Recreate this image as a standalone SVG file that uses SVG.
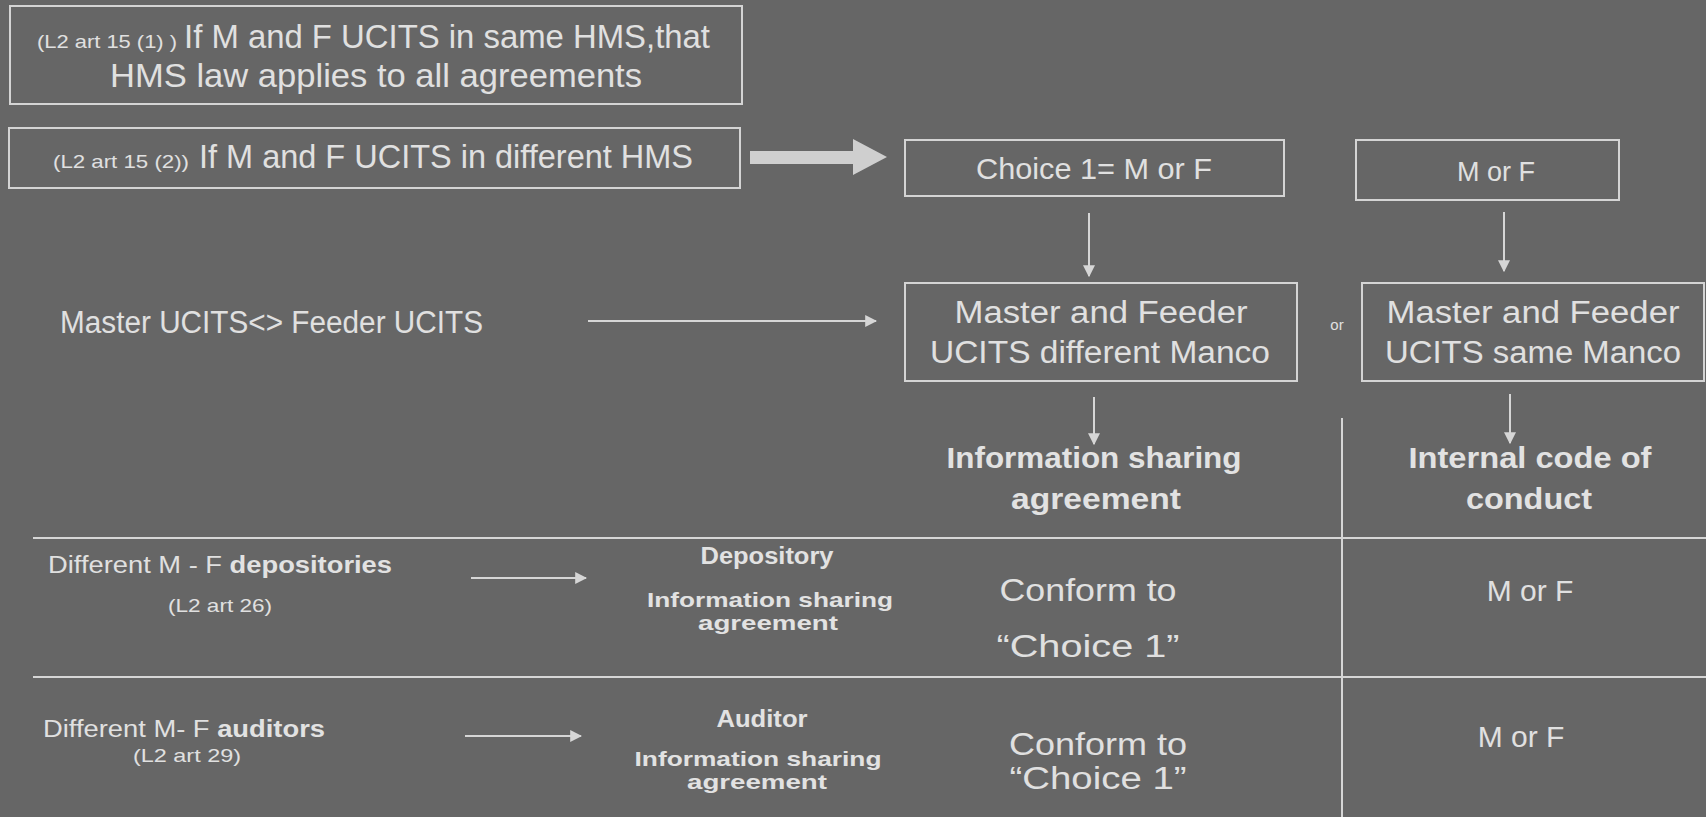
<svg xmlns="http://www.w3.org/2000/svg" width="1706" height="817" viewBox="0 0 1706 817">
<defs>
<marker id="ah" viewBox="0 0 10 10" refX="9" refY="5" markerWidth="6" markerHeight="6" orient="auto" markerUnits="strokeWidth"><path d="M0,0 L10,5 L0,10 z" fill="#d6d6d6"/></marker>
<style>
.bg{fill:#666666}
.box{fill:none;stroke:#d4d4d4;stroke-width:2}
.t{font-family:"Liberation Sans",Arial,sans-serif;fill:#e0e0e0;font-weight:normal}
.b{font-family:"Liberation Sans",Arial,sans-serif;fill:#e2e2e2;font-weight:bold}
.c{text-anchor:middle}
.ln{stroke:#d6d6d6;stroke-width:2;fill:none}
.ar{stroke:#d6d6d6;stroke-width:2;fill:none;marker-end:url(#ah)}
</style>
</defs>
<rect class="bg" x="0" y="0" width="1706" height="817"/>

<g id="n-same-hms">
<rect class="box" x="10" y="6" width="732" height="98"/>
<text class="t" x="37" y="48" font-size="19" textLength="140" lengthAdjust="spacingAndGlyphs">(L2 art 15 (1) )</text>
<text class="t" x="184" y="48" font-size="33" textLength="526" lengthAdjust="spacingAndGlyphs">If M and F UCITS in same HMS,that</text>
<text class="t" x="110" y="87" font-size="33" textLength="532" lengthAdjust="spacingAndGlyphs">HMS law applies to all agreements</text>
</g>

<g id="n-diff-hms">
<rect class="box" x="9" y="128" width="731" height="60"/>
<text class="t" x="53" y="168" font-size="19" textLength="136" lengthAdjust="spacingAndGlyphs">(L2 art 15 (2))</text>
<text class="t" x="199" y="168" font-size="33" textLength="494" lengthAdjust="spacingAndGlyphs">If M and F UCITS in different HMS</text>
</g>

<g id="n-choice1">
<rect class="box" x="905" y="140" width="379" height="56"/>
<text class="t c" x="1094" y="179" font-size="30" textLength="236" lengthAdjust="spacingAndGlyphs">Choice 1= M or F</text>
</g>

<g id="n-morf-top">
<rect class="box" x="1356" y="140" width="263" height="60"/>
<text class="t c" x="1496" y="181" font-size="27">M or F</text>
</g>

<g id="n-master-feeder">
<text class="t" x="60" y="333" font-size="31" textLength="423" lengthAdjust="spacingAndGlyphs">Master  UCITS&lt;&gt; Feeder UCITS</text>
</g>

<g id="n-diff-manco">
<rect class="box" x="905" y="283" width="392" height="98"/>
<text class="t c" x="1101" y="323" font-size="31" textLength="293" lengthAdjust="spacingAndGlyphs">Master and Feeder</text>
<text class="t c" x="1100" y="363" font-size="31" textLength="340" lengthAdjust="spacingAndGlyphs">UCITS different Manco</text>
</g>

<g id="n-or">
<text class="t c" x="1337" y="330" font-size="15">or</text>
</g>

<g id="n-same-manco">
<rect class="box" x="1362" y="283" width="342" height="98"/>
<text class="t c" x="1533" y="323" font-size="31" textLength="293" lengthAdjust="spacingAndGlyphs">Master and Feeder</text>
<text class="t c" x="1533" y="363" font-size="31" textLength="296" lengthAdjust="spacingAndGlyphs">UCITS same Manco</text>
</g>

<g id="n-isa-head">
<text class="b c" x="1094" y="468" font-size="29" textLength="295" lengthAdjust="spacingAndGlyphs">Information sharing</text>
<text class="b c" x="1096" y="509" font-size="29" textLength="170" lengthAdjust="spacingAndGlyphs">agreement</text>
</g>

<g id="n-icc-head">
<text class="b c" x="1530" y="468" font-size="29" textLength="243" lengthAdjust="spacingAndGlyphs">Internal code of</text>
<text class="b c" x="1529" y="509" font-size="29" textLength="126" lengthAdjust="spacingAndGlyphs">conduct</text>
</g>

<g id="n-grid">
<line class="ln" x1="33" y1="538" x2="1706" y2="538"/>
<line class="ln" x1="33" y1="677" x2="1706" y2="677"/>
<line class="ln" x1="1342" y1="418" x2="1342" y2="817"/>
</g>

<g id="n-row1-left">
<text class="t" x="48" y="573" font-size="23" textLength="344" lengthAdjust="spacingAndGlyphs">Different  M - F <tspan class="b">depositories</tspan></text>
<text class="t" x="168" y="612" font-size="19" textLength="104" lengthAdjust="spacingAndGlyphs">(L2 art 26)</text>
</g>

<g id="n-row1-mid">
<text class="b c" x="767" y="564" font-size="23" textLength="133" lengthAdjust="spacingAndGlyphs">Depository</text>
<text class="b c" x="770" y="607" font-size="21" textLength="246" lengthAdjust="spacingAndGlyphs">Information sharing</text>
<text class="b c" x="768" y="630" font-size="21" textLength="140" lengthAdjust="spacingAndGlyphs">agreement</text>
</g>

<g id="n-row1-isa">
<text class="t c" x="1088" y="601" font-size="31" textLength="177" lengthAdjust="spacingAndGlyphs">Conform to</text>
<text class="t c" x="1088" y="657" font-size="31" textLength="183" lengthAdjust="spacingAndGlyphs">“Choice 1”</text>
</g>

<g id="n-row1-icc">
<text class="t c" x="1530" y="601" font-size="30">M or F</text>
</g>

<g id="n-row2-left">
<text class="t" x="43" y="737" font-size="23" textLength="282" lengthAdjust="spacingAndGlyphs">Different M- F <tspan class="b">auditors</tspan></text>
<text class="t" x="133" y="762" font-size="19" textLength="108" lengthAdjust="spacingAndGlyphs">(L2  art 29)</text>
</g>

<g id="n-row2-mid">
<text class="b c" x="762" y="727" font-size="23" textLength="91" lengthAdjust="spacingAndGlyphs">Auditor</text>
<text class="b c" x="758" y="766" font-size="21" textLength="247" lengthAdjust="spacingAndGlyphs">Information sharing</text>
<text class="b c" x="757" y="789" font-size="21" textLength="140" lengthAdjust="spacingAndGlyphs">agreement</text>
</g>

<g id="n-row2-isa">
<text class="t c" x="1098" y="755" font-size="31" textLength="178" lengthAdjust="spacingAndGlyphs">Conform to</text>
<text class="t c" x="1098" y="789" font-size="31" textLength="177" lengthAdjust="spacingAndGlyphs">“Choice 1”</text>
</g>

<g id="n-row2-icc">
<text class="t c" x="1521" y="747" font-size="30">M or F</text>
</g>

<g id="connectors">
<path d="M750,151 L853,151 L853,139 L887,157 L853,175 L853,164 L750,164 z" fill="#cfcfcf"/>
<line class="ar" x1="1089" y1="213" x2="1089" y2="276"/>
<line class="ar" x1="1504" y1="212" x2="1504" y2="271"/>
<line class="ar" x1="588" y1="321" x2="876" y2="321"/>
<line class="ar" x1="1094" y1="397" x2="1094" y2="444"/>
<line class="ar" x1="1510" y1="394" x2="1510" y2="443"/>
<line class="ar" x1="471" y1="578" x2="586" y2="578"/>
<line class="ar" x1="465" y1="736" x2="581" y2="736"/>
</g>
</svg>
